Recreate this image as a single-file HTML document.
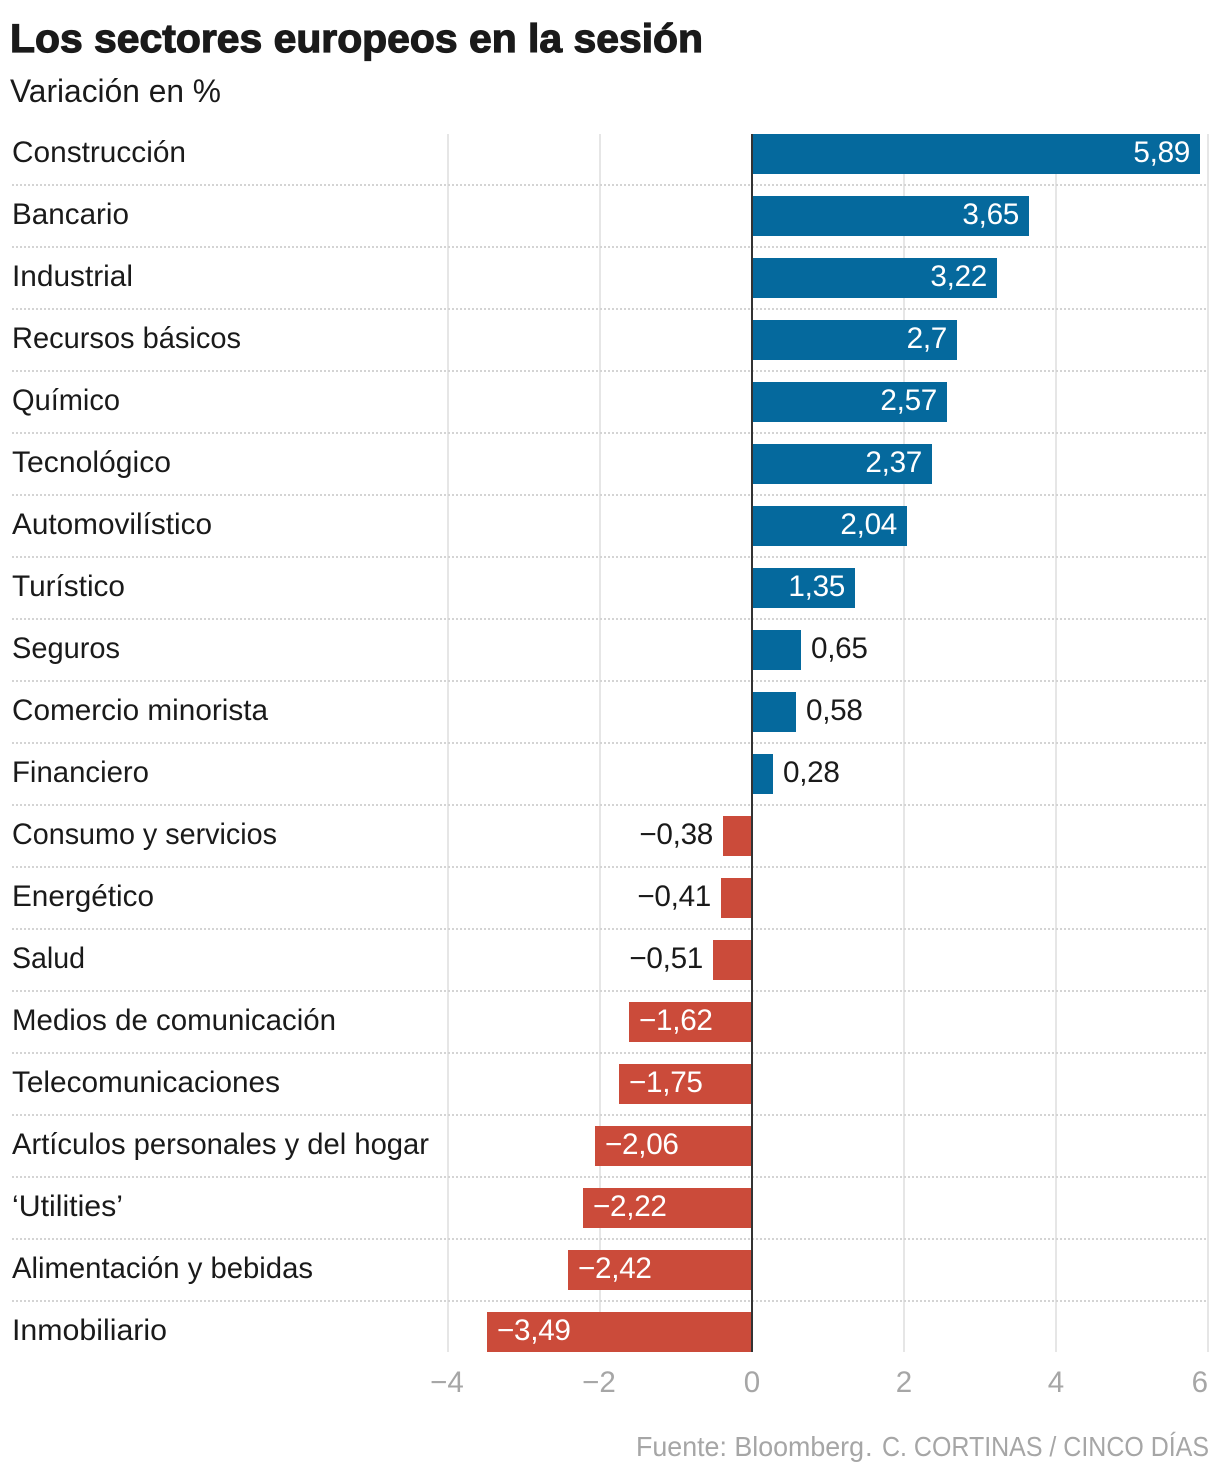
<!DOCTYPE html>
<html lang="es">
<head>
<meta charset="utf-8">
<title>Los sectores europeos en la sesión</title>
<style>
html,body{margin:0;padding:0;background:#fff;}
svg{display:block;}
text{font-family:"Liberation Sans",sans-serif;}
</style>
</head>
<body>
<svg id="chart" xmlns="http://www.w3.org/2000/svg" width="1220" height="1476" viewBox="0 0 1220 1476">
  <text x="10" y="52" font-size="40" font-weight="700" fill="#1a1a1a" stroke="#1a1a1a" stroke-width="1.2" textLength="693" lengthAdjust="spacingAndGlyphs">Los sectores europeos en la sesión</text>
  <text x="10" y="102" font-size="32" fill="#1a1a1a" textLength="211" lengthAdjust="spacingAndGlyphs">Variación en %</text>
  <g id="grid"></g>
  <g id="rules"></g>
  <g id="bars"></g>
  <g id="axis"></g>
  <g id="labels" font-size="29.7" fill="#1a1a1a">
    <text x="12" y="162" textLength="174" lengthAdjust="spacingAndGlyphs">Construcción</text>
    <text x="12" y="224" textLength="117" lengthAdjust="spacingAndGlyphs">Bancario</text>
    <text x="12" y="286" textLength="121" lengthAdjust="spacingAndGlyphs">Industrial</text>
    <text x="12" y="348" textLength="229" lengthAdjust="spacingAndGlyphs">Recursos básicos</text>
    <text x="12" y="410" textLength="108" lengthAdjust="spacingAndGlyphs">Químico</text>
    <text x="12" y="472" textLength="159" lengthAdjust="spacingAndGlyphs">Tecnológico</text>
    <text x="12" y="534" textLength="200" lengthAdjust="spacingAndGlyphs">Automovilístico</text>
    <text x="12" y="596" textLength="113" lengthAdjust="spacingAndGlyphs">Turístico</text>
    <text x="12" y="658" textLength="108" lengthAdjust="spacingAndGlyphs">Seguros</text>
    <text x="12" y="720" textLength="256" lengthAdjust="spacingAndGlyphs">Comercio minorista</text>
    <text x="12" y="782" textLength="137" lengthAdjust="spacingAndGlyphs">Financiero</text>
    <text x="12" y="844" textLength="265" lengthAdjust="spacingAndGlyphs">Consumo y servicios</text>
    <text x="12" y="906" textLength="142" lengthAdjust="spacingAndGlyphs">Energético</text>
    <text x="12" y="968" textLength="73" lengthAdjust="spacingAndGlyphs">Salud</text>
    <text x="12" y="1030" textLength="324" lengthAdjust="spacingAndGlyphs">Medios de comunicación</text>
    <text x="12" y="1092" textLength="268" lengthAdjust="spacingAndGlyphs">Telecomunicaciones</text>
    <text x="12" y="1154" textLength="417" lengthAdjust="spacingAndGlyphs">Artículos personales y del hogar</text>
    <text x="12" y="1216" textLength="111" lengthAdjust="spacingAndGlyphs">‘Utilities’</text>
    <text x="12" y="1278" textLength="301" lengthAdjust="spacingAndGlyphs">Alimentación y bebidas</text>
    <text x="12" y="1340" textLength="155" lengthAdjust="spacingAndGlyphs">Inmobiliario</text>
  </g>
  <g id="values"></g>
  <g font-size="27.5" fill="#a6a6a6">
    <text x="636" y="1456" textLength="228" lengthAdjust="spacingAndGlyphs">Fuente: Bloomberg</text>
    <text x="865" y="1456">.</text>
    <text x="882" y="1456" textLength="327" lengthAdjust="spacingAndGlyphs">C. CORTINAS / CINCO DÍAS</text>
  </g>
</svg>
<script>
const categories = ["Construcción","Bancario","Industrial","Recursos básicos","Químico","Tecnológico","Automovilístico","Turístico","Seguros","Comercio minorista","Financiero","Consumo y servicios","Energético","Salud","Medios de comunicación","Telecomunicaciones","Artículos personales y del hogar","‘Utilities’","Alimentación y bebidas","Inmobiliario"];
const seriesValues = [5.89,3.65,3.22,2.7,2.57,2.37,2.04,1.35,0.65,0.58,0.28,-0.38,-0.41,-0.51,-1.62,-1.75,-2.06,-2.22,-2.42,-3.49];
const tickValues = [-4,-2,0,2,4,6];

const NS = "http://www.w3.org/2000/svg";
const plotTop = 134, plotBottom = 1352, rowStep = 62, barHeight = 40;
const xScale = v => 752 + v * 76;
const yScale = i => plotTop + i * rowStep;
const fmt = v => (v < 0 ? "\u2212" : "") + String(Math.abs(v)).replace(".", ",");

function make(tag, attrs, parent, content) {
  const el = document.createElementNS(NS, tag);
  for (const k in attrs) el.setAttribute(k, attrs[k]);
  if (content !== undefined) el.textContent = content;
  parent.appendChild(el);
  return el;
}

const gridG = document.getElementById("grid");
const rulesG = document.getElementById("rules");
const barsG = document.getElementById("bars");
const axisG = document.getElementById("axis");
const valuesG = document.getElementById("values");

tickValues.forEach(t => {
  const x = xScale(t);
  if (t !== 0) {
    const g = make("line", {x1:x, x2:x, y1:plotTop, y2:plotBottom, stroke:"#e6e6e6", "stroke-width":2}, gridG);
    
    
  }
  const anchor = t === 6 ? "end" : "middle";
  const tx = t === 6 ? x : (t < 0 ? x - 1 : x);
  const lab = make("text", {x:tx, y:1392, "font-size":29.5, fill:"#a6a6a6", "text-anchor":anchor}, axisG, fmt(t));
  
  
});

categories.forEach((name, i) => {
  const y = yScale(i);
  const v = seriesValues[i];

  if (i < categories.length - 1) {
    const r = make("line", {x1:12, x2:1208, y1:y + 51, y2:y + 51, stroke:"#d4d4d4", "stroke-width":2, "stroke-dasharray":"2 2"}, rulesG);
    
    
  }

  const x0 = xScale(0), x1 = Math.round(xScale(v));
  const bar = make("rect", {x:Math.min(x0, x1), y:y, width:Math.abs(x1 - x0), height:barHeight, fill:v >= 0 ? "#05699d" : "#cb4b3a"}, barsG);
  
  
  bar.setAttribute('aria-label', name);

  const inside = Math.abs(v) >= 1;
  let vx, anchor;
  if (v >= 0) {
    vx = inside ? x1 - 10 : x1 + 10;
    anchor = inside ? "end" : "start";
  } else {
    vx = inside ? x1 + 10 : x1 - 10;
    anchor = inside ? "start" : "end";
  }
  const val = make("text", {x:vx, y:y + 28, "font-size":29.7, "letter-spacing":"-0.3", fill:inside ? "#ffffff" : "#1a1a1a", "text-anchor":anchor}, valuesG, fmt(v));
  
  
});

const zero = make("line", {x1:xScale(0), x2:xScale(0), y1:plotTop, y2:plotBottom, stroke:"#333333", "stroke-width":2}, axisG);


</script>
</body>
</html>
